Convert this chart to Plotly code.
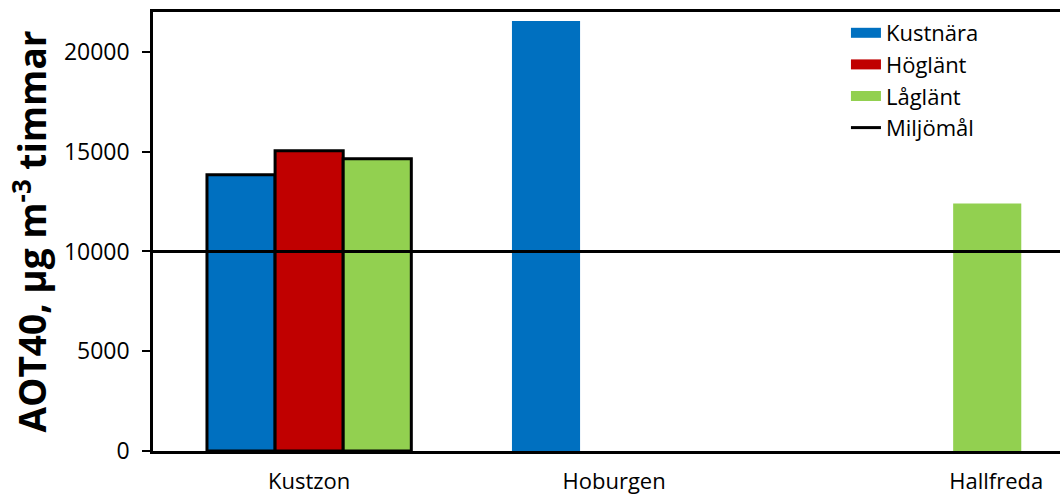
import plotly.graph_objects as go

categories = ["Kustzon", "Hoburgen", "Hallfreda"]
kustnara = [13850, 21550, None]
hoglant = [15050, None, None]
laglant = [14650, None, 12400]
miljomal = 10000
series_names = ["Kustnära", "Höglänt", "Låglänt", "Miljömål"]
y_ticks = [0, 5000, 10000, 15000, 20000]

colors = ["#0070C0", "#C00000", "#92D050"]
outline_w = [3, 0, 0]

fig = go.Figure()
for name, vals, col in zip(series_names[:3], [kustnara, hoglant, laglant], colors):
    fig.add_trace(go.Bar(
        x=categories, y=vals, name=name, showlegend=False, legendgroup=name,
        marker=dict(color=col, line=dict(color="black", width=outline_w)),
    ))
    # legend entry drawn as a wide swatch
    fig.add_trace(go.Scatter(
        x=[None], y=[None], mode="lines", name=name, legendgroup=name,
        line=dict(color=col, width=10), xaxis="x2",
    ))

fig.add_trace(go.Scatter(
    x=[0, 1], y=[miljomal, miljomal], mode="lines", name=series_names[3],
    line=dict(color="black", width=3), xaxis="x2",
))

# the last label sits right of its group centre in the reference
pad = "\u00a0" * 27
tick_text = [categories[0], categories[1], pad + categories[2]]

font = "Open Sans, Lato, sans-serif"
fig.update_layout(
    width=1060, height=495,
    margin=dict(l=153, r=0, t=12, b=44),
    paper_bgcolor="white", plot_bgcolor="white",
    barmode="group", bargap=0.33, bargroupgap=0,
    font=dict(family=font, size=22, color="black"),
    xaxis=dict(
        type="category", range=[-0.512, 2.462], showline=True, linecolor="black",
        linewidth=2.5, mirror=True, ticks="", showgrid=False,
        tickmode="array", tickvals=categories, ticktext=tick_text,
        tickfont=dict(size=22), ticklabelstandoff=9,
    ),
    xaxis2=dict(overlaying="x", range=[0, 1], visible=False),
    yaxis=dict(
        range=[0, 22000], tickvals=y_ticks, tickformat="d", ticks="outside", ticklen=8,
        tickwidth=2, tickcolor="black", showline=True, linecolor="black",
        linewidth=2.5, mirror=False, showgrid=False, zeroline=False,
        tickfont=dict(size=23), ticklabelstandoff=8,
        title=dict(text="<b>AOT40, µg m<sup>-3</sup> timmar</b>",
                   font=dict(size=37), standoff=6),
    ),
    legend=dict(
        x=0.764, y=1.0, xanchor="left", yanchor="top",
        font=dict(size=22), tracegroupgap=0,
        bgcolor="rgba(0,0,0,0)", traceorder="normal",
    ),
    showlegend=True,
)

fig.write_html("out.html", config={"displayModeBar": False},
               post_script="document.body.style.margin='0';")
